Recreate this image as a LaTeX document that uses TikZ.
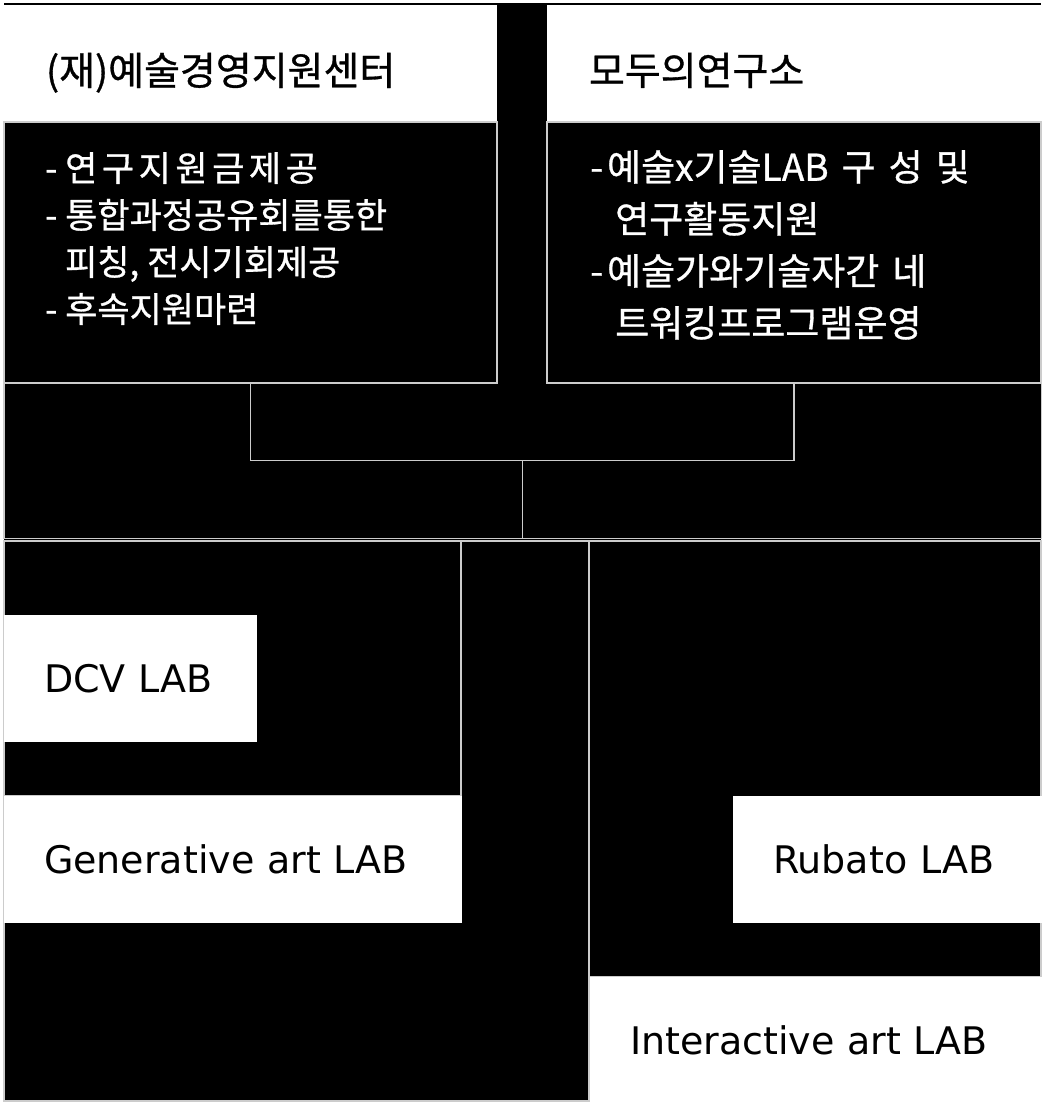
\documentclass[tikz,border=0pt]{standalone}
\usepackage{fontspec}
\setmainfont[FakeBold=0.8]{Noto Sans CJK KR}
\newfontfamily\widerfont[FakeBold=0.8, LetterSpace=13]{Noto Sans CJK KR}
\newfontfamily\labfont{DejaVu Sans}
\usetikzlibrary{positioning}

\tikzset{
  wire/.style={draw=white!80!black, line width=1.3pt},
  headbox/.style={fill=white, text=black, anchor=north west, outer sep=0pt,
    inner ysep=0pt, inner xsep=42pt, align=left, text height=49pt, text depth=6pt,
    font=\fontsize{39}{44}\selectfont},
  notebox/.style={wire, fill=black, anchor=north west, outer sep=0pt, inner sep=0pt},
  notetext/.style={text=white, anchor=north west, inner sep=0pt, align=left},
  zone/.style={wire, anchor=north west, outer sep=0pt, inner sep=0pt},
  labbox/.style={fill=white, text=black, anchor=north west, outer sep=0pt,
    inner ysep=0pt, inner xsep=40pt, align=left, text height=28pt, text depth=0pt,
    font=\labfont\fontsize{38}{44}\selectfont},
}

\begin{document}
\begin{tikzpicture}[x=1pt, y=-1pt]
  % page and background
  \useasboundingbox (0,0) rectangle (1045,1104);
  \fill[white] (0,0) rectangle (1045,1104);
  \fill[black] (4,2.5) rectangle (1041,1101);

  % two partners
  \node[headbox, text width=409pt, minimum height=117pt] (kamshead) at (4,5) {(재)예술경영지원센터};
  \node[headbox, text width=414pt, minimum height=117pt] (moduhead) at (547,5) {모두의연구소};
  \node[notebox, minimum width=493pt, minimum height=261pt] (kamsbody) at (4,122) {};
  \node[notebox, minimum width=494pt, minimum height=261pt] (modubody) at (547,122) {};

  \node[notetext, font=\fontsize{35}{47}\selectfont] (kamsnote) at ([shift={(41,30)}]kamsbody.north west)
    {-~{\widerfont 연구지원금제공}\\-~통합과정공유회를통한\\\phantom{-~}피칭, 전시기회제공\\-~후속지원마련};
  \node[notetext, font={\fontsize{37}{52}\selectfont\spaceskip=13pt}] (modunote) at ([shift={(43,28)}]modubody.north west)
    {-\kern4pt 예술x기술LAB 구 성 및\\\hspace*{25pt}연구활동지원\\-\kern4pt 예술가와기술자간 네\\\hspace*{25pt}트워킹프로그램운영};

  % joining bracket
  \node[anchor=north west, minimum width=1037pt, minimum height=155pt, inner sep=0pt] (labarea) at (4,383) {};
  \draw[wire] (labarea.north west) -- (labarea.south west) -- (labarea.south east) -- (labarea.north east);
  \draw[wire] (kamsbody.south) |- (labarea.center) -| (modubody.south);
  \draw[wire] (labarea.center) -- (labarea.south);

  % lab zones
  \node[zone, minimum width=585pt, minimum height=560pt] (basezone) at (4,541) {};
  \node[zone, minimum width=457pt, minimum height=255pt] (leftzone) at (4,541) {};
  \node[zone, minimum width=452pt, minimum height=436pt] (rightzone) at (589,541) {};

  % labs
  \node[labbox, text width=173pt, minimum height=127pt] (dcvlab) at (4,615) {DCV LAB};
  \node[labbox, text width=378pt, minimum height=127pt] (genlab) at (4,796) {Generative art LAB};
  \node[labbox, text width=232pt, minimum height=127pt] (rubatolab) at (733,796) {Rubato LAB};
  \node[labbox, text width=375pt, minimum height=127pt] (interlab) at (590,977) {Interactive art LAB};
\end{tikzpicture}
\end{document}
